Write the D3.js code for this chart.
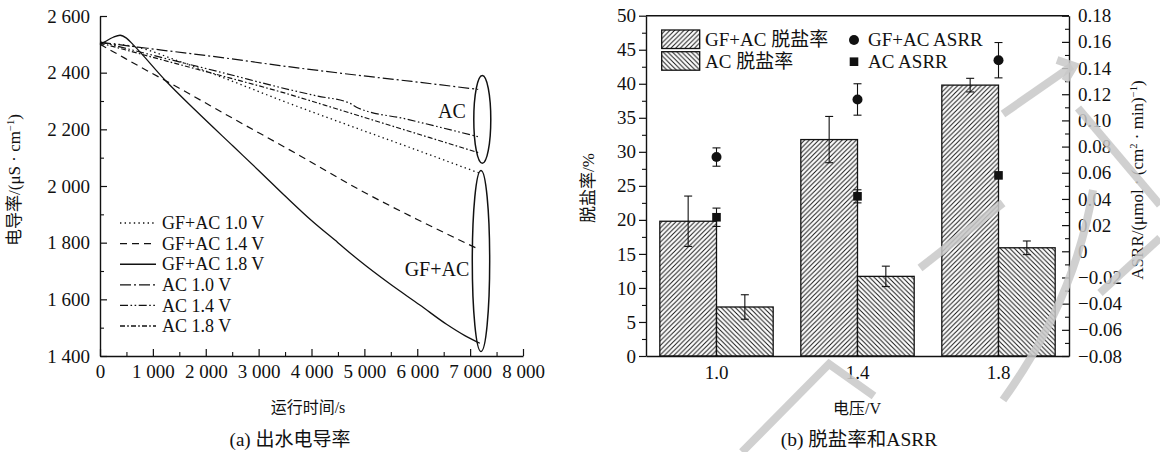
<!DOCTYPE html>
<html>
<head>
<meta charset="utf-8">
<script src="https://cdn.jsdelivr.net/npm/d3@7"></script>
<style>
  body { margin: 0; background: #fff; }
  svg { display: block; }
</style>
</head>
<body>
<svg id="chart" width="1160" height="452"></svg>
<script>
// ---------------- Panel (a): effluent conductivity vs. run time ----------------
const timeTicks = [0, 1000, 2000, 3000, 4000, 5000, 6000, 7000, 8000];
const timeMinor = [500, 1500, 2500, 3500, 4500, 5500, 6500, 7500];
const condTicks = [1400, 1600, 1800, 2000, 2200, 2400, 2600];
const condMinor = [1500, 1700, 1900, 2100, 2300, 2500];

const seriesNames = ["GF+AC 1.0 V", "GF+AC 1.4 V", "GF+AC 1.8 V", "AC 1.0 V", "AC 1.4 V", "AC 1.8 V"];

const gfac10Time = [0, 700, 1500, 2500, 3403, 4500, 5800, 7183];
const gfac10Cond = [2505, 2490, 2440, 2370, 2304, 2228, 2140, 2045];

const gfac14Time = [0, 250, 756, 1500, 2500, 3781, 4915, 6000, 7150];
const gfac14Cond = [2500, 2474, 2421, 2345, 2240, 2107, 1986, 1882, 1778];

const gfac18Time = [0, 100, 250, 380, 500, 630, 1260, 1800, 2520, 3000, 3527, 4000, 4500, 4915, 5500, 6049, 6554, 6900, 7183];
const gfac18Cond = [2500, 2510, 2525, 2532, 2522, 2498, 2368, 2268, 2140, 2055, 1960, 1878, 1800, 1735, 1652, 1580, 1512, 1472, 1445];

const ac10Time = [0, 1200, 2400, 3403, 4600, 5900, 7152];
const ac10Cond = [2507, 2479, 2451, 2425, 2397, 2369, 2341];

const ac14Time = [0, 1200, 2400, 3403, 4100, 4726, 4851, 5800, 7152];
const ac14Cond = [2509, 2452, 2396, 2348, 2318, 2292, 2278, 2236, 2174];

const ac18Time = [0, 1200, 2400, 3403, 4600, 5900, 7152];
const ac18Cond = [2505, 2444, 2384, 2333, 2265, 2190, 2118];

// ---------------- Panel (b): salt removal and ASRR ----------------
const voltages = ["1.0", "1.4", "1.8"];
const gfacRate = [19.8, 31.8, 39.8];
const gfacRateErr = [3.7, 3.4, 1.0];
const acRate = [7.2, 11.7, 15.9];
const acRateErr = [1.8, 1.5, 1.0];
const gfacAsrr = [0.072, 0.116, 0.146];
const gfacAsrrErr = [0.007, 0.012, 0.0135];
const acAsrr = [0.026, 0.042, 0.058];
const acAsrrErr = [0.007, 0.005, 0.0];
const rateTicks = [0, 5, 10, 15, 20, 25, 30, 35, 40, 45, 50];
const rateMinor = [2.5, 7.5, 12.5, 17.5, 22.5, 27.5, 32.5, 37.5, 42.5, 47.5];
const asrrTicks = [-0.08, -0.06, -0.04, -0.02, 0, 0.02, 0.04, 0.06, 0.08, 0.10, 0.12, 0.14, 0.16, 0.18];
const asrrMinor = [-0.07, -0.05, -0.03, -0.01, 0.01, 0.03, 0.05, 0.07, 0.09, 0.11, 0.13, 0.15, 0.17];

// ---------------- shared styling ----------------
const INK = "#111";
const SERIF = '"Liberation Serif", "Times New Roman", "Noto Sans CJK SC", serif';
const TICK_FONT = 19;

const svg = d3.select("#chart").attr("font-family", SERIF);

function styleAxis(g) {
  g.attr("font-family", SERIF).attr("font-size", TICK_FONT);
  g.selectAll("text").attr("fill", INK);
  g.selectAll("line").attr("stroke", INK).attr("stroke-width", 1.2);
  g.selectAll("path.domain").attr("stroke", INK).attr("stroke-width", 1.4);
}
function styleMinor(g) {
  g.select("path.domain").remove();
  g.selectAll("line").attr("stroke", INK).attr("stroke-width", 1.1);
}

// Rotated axis title with optional superscript runs: parts = [[text, isSup], ...]
function rotatedTitle(x, y, parts, size) {
  const t = svg.append("text")
    .attr("transform", `translate(${x},${y}) rotate(-90)`)
    .attr("text-anchor", "middle")
    .attr("font-size", size)
    .attr("fill", INK);
  let raised = false;
  parts.forEach(([txt, sup]) => {
    const ts = t.append("tspan").text(txt);
    if (sup && !raised) { ts.attr("dy", -size * 0.38).attr("font-size", size * 0.62); raised = true; }
    else if (sup) { ts.attr("font-size", size * 0.62); }
    else if (raised) { ts.attr("dy", size * 0.38); raised = false; }
  });
  return t;
}

const spaced = d => d === 0 ? "0" : d3.format(",")(d).replace(/,/g, " ");

// ================= Panel (a) =================
const xA = d3.scaleLinear().domain([0, 8000]).range([100, 523]);
const yA = d3.scaleLinear().domain([1400, 2600]).range([356, 16]);

const styles = {
  "GF+AC 1.0 V": { dash: "1.4,3.2", w: 1.3 },
  "GF+AC 1.4 V": { dash: "7,5", w: 1.2 },
  "GF+AC 1.8 V": { dash: null, w: 1.3 },
  "AC 1.0 V": { dash: "11,3,2,3", w: 1.2 },
  "AC 1.4 V": { dash: "8,2.5,1.6,2.5,1.6,2.5", w: 1.2 },
  "AC 1.8 V": { dash: "5,2.2,1.6,2.2", w: 1.2 }
};

const seriesData = [
  d3.zip(gfac10Time, gfac10Cond),
  d3.zip(gfac14Time, gfac14Cond),
  d3.zip(gfac18Time, gfac18Cond),
  d3.zip(ac10Time, ac10Cond),
  d3.zip(ac14Time, ac14Cond),
  d3.zip(ac18Time, ac18Cond)
];

const lineA = d3.line().curve(d3.curveMonotoneX).x(d => xA(d[0])).y(d => yA(d[1]));

const gLines = svg.append("g").attr("fill", "none");
seriesNames.forEach((name, i) => {
  gLines.append("path")
    .attr("d", lineA(seriesData[i]))
    .attr("stroke", INK)
    .attr("stroke-width", styles[name].w)
    .attr("stroke-dasharray", styles[name].dash);
});

// axes
svg.append("g").attr("transform", "translate(0,356)")
  .call(d3.axisBottom(xA).tickValues(timeMinor).tickSize(-4).tickSizeOuter(0).tickFormat(""))
  .call(styleMinor);
svg.append("g").attr("transform", "translate(0,356)")
  .call(d3.axisBottom(xA).tickValues(timeTicks).tickFormat(spaced).tickSize(-7).tickSizeOuter(0).tickPadding(9))
  .call(styleAxis);
svg.append("g").attr("transform", "translate(100,0)")
  .call(d3.axisLeft(yA).tickValues(condMinor).tickSize(-4).tickSizeOuter(0).tickFormat(""))
  .call(styleMinor);
svg.append("g").attr("transform", "translate(100,0)")
  .call(d3.axisLeft(yA).tickValues(condTicks).tickFormat(spaced).tickSize(-7).tickSizeOuter(0).tickPadding(10))
  .call(styleAxis);

// group ellipses at the end of the runs
const endT = 7230;
svg.append("ellipse")
  .attr("cx", xA(endT)).attr("cy", (yA(2390) + yA(2080)) / 2)
  .attr("rx", 8.5).attr("ry", (yA(2080) - yA(2390)) / 2)
  .attr("fill", "none").attr("stroke", INK).attr("stroke-width", 1.5);
svg.append("ellipse")
  .attr("cx", xA(endT) - 1.3).attr("cy", (yA(2055) + yA(1416)) / 2)
  .attr("rx", 8.7).attr("ry", (yA(1416) - yA(2055)) / 2)
  .attr("fill", "none").attr("stroke", INK).attr("stroke-width", 1.5);
svg.append("text").attr("x", 452).attr("y", 118).attr("text-anchor", "middle")
  .attr("font-size", 20).attr("fill", INK).text("AC");
svg.append("text").attr("x", 437).attr("y", 276).attr("text-anchor", "middle")
  .attr("font-size", 20).attr("fill", INK).text("GF+AC");

// legend
const legA = svg.append("g").attr("transform", "translate(120,223)");
seriesNames.forEach((name, i) => {
  const row = legA.append("g").attr("transform", `translate(0,${i * 20.6})`);
  row.append("line").attr("x1", 0).attr("x2", 36).attr("y1", 0).attr("y2", 0)
    .attr("stroke", INK).attr("stroke-width", styles[name].w + 0.1)
    .attr("stroke-dasharray", styles[name].dash);
  row.append("text").attr("x", 42).attr("y", 0).attr("dy", "0.34em")
    .attr("font-size", 18).attr("fill", INK).text(name);
});

// titles
rotatedTitle(20, 180, [["电导率/(μS · cm", false], ["−1", true], [")", false]], 17);
svg.append("text").attr("x", 308).attr("y", 413).attr("text-anchor", "middle")
  .attr("font-size", 16).attr("fill", INK).text("运行时间/s");
svg.append("text").attr("x", 290).attr("y", 446).attr("text-anchor", "middle")
  .attr("font-size", 19).attr("fill", INK).text("(a) 出水电导率");

// ================= Panel (b) =================
const defs = svg.append("defs");
function hatch(id, d) {
  const s = 4.7;
  const p = defs.append("pattern").attr("id", id)
    .attr("patternUnits", "userSpaceOnUse").attr("width", s).attr("height", s);
  p.append("rect").attr("width", s).attr("height", s).attr("fill", "#fff");
  p.append("path").attr("d", d).attr("stroke", INK).attr("stroke-width", 0.95);
}
hatch("hatchFwd", "M-1,1 L1,-1 M0,4.7 L4.7,0 M3.7,5.7 L5.7,3.7");
hatch("hatchBack", "M-1,3.7 L1,5.7 M0,0 L4.7,4.7 M3.7,-1 L5.7,1");

const plotL = 646, plotR = 1069, plotT = 15.7, plotB = 356;
const xB = d3.scaleBand().domain(voltages).range([plotL, plotR]).paddingInner(0.196).paddingOuter(0.098);
const xSub = d3.scaleBand().domain(["gfac", "ac"]).range([0, xB.bandwidth()]);
const yRate = d3.scaleLinear().domain([0, 50]).range([plotB, plotT]);
const yAsrr = d3.scaleLinear().domain([-0.08, 0.18]).range([plotB, plotT]);

const barSets = [
  { key: "gfac", vals: gfacRate, errs: gfacRateErr, fill: "url(#hatchFwd)" },
  { key: "ac", vals: acRate, errs: acRateErr, fill: "url(#hatchBack)" }
];

const gBars = svg.append("g");
barSets.forEach(set => {
  voltages.forEach((v, i) => {
    const x0 = xB(v) + xSub(set.key);
    gBars.append("rect")
      .attr("x", x0).attr("width", xSub.bandwidth())
      .attr("y", yRate(set.vals[i])).attr("height", yRate(0) - yRate(set.vals[i]))
      .attr("fill", set.fill).attr("stroke", INK).attr("stroke-width", 1.3);
  });
});

function errorBar(g, cx, yHi, yLo, cap) {
  g.append("line").attr("x1", cx).attr("x2", cx).attr("y1", yHi).attr("y2", yLo);
  g.append("line").attr("x1", cx - cap / 2).attr("x2", cx + cap / 2).attr("y1", yHi).attr("y2", yHi);
  g.append("line").attr("x1", cx - cap / 2).attr("x2", cx + cap / 2).attr("y1", yLo).attr("y2", yLo);
}

const gErr = svg.append("g").attr("stroke", INK).attr("stroke-width", 1.1);
barSets.forEach(set => {
  voltages.forEach((v, i) => {
    const cx = xB(v) + xSub(set.key) + xSub.bandwidth() / 2;
    errorBar(gErr, cx, yRate(set.vals[i] + set.errs[i]), yRate(set.vals[i] - set.errs[i]), 8);
  });
});

// ASRR markers at the centre of each voltage group
const gPts = svg.append("g");
voltages.forEach((v, i) => {
  const cx = xB(v) + xB.bandwidth() / 2;
  if (gfacAsrrErr[i] > 0) errorBar(gErr, cx, yAsrr(gfacAsrr[i] + gfacAsrrErr[i]), yAsrr(gfacAsrr[i] - gfacAsrrErr[i]), 8);
  if (acAsrrErr[i] > 0) errorBar(gErr, cx, yAsrr(acAsrr[i] + acAsrrErr[i]), yAsrr(acAsrr[i] - acAsrrErr[i]), 8);
  gPts.append("circle").attr("cx", cx).attr("cy", yAsrr(gfacAsrr[i])).attr("r", 5).attr("fill", INK);
  gPts.append("rect").attr("x", cx - 4.3).attr("y", yAsrr(acAsrr[i]) - 4.3)
    .attr("width", 8.6).attr("height", 8.6).attr("fill", INK);
});

// frame and axes
svg.append("line").attr("x1", plotL).attr("x2", plotR).attr("y1", plotT).attr("y2", plotT)
  .attr("stroke", INK).attr("stroke-width", 1.4);
svg.append("g").attr("transform", `translate(0,${plotB})`)
  .call(d3.axisBottom(xB).tickSize(0).tickPadding(10))
  .call(styleAxis);
svg.append("g").attr("transform", `translate(${plotL},0)`)
  .call(d3.axisLeft(yRate).tickValues(rateMinor).tickSize(4).tickSizeOuter(0).tickFormat(""))
  .call(styleMinor);
svg.append("g").attr("transform", `translate(${plotL},0)`)
  .call(d3.axisLeft(yRate).tickValues(rateTicks).tickSize(7).tickSizeOuter(0).tickPadding(3))
  .call(styleAxis);
const asrrFmt = d => d === 0 ? "0" : d3.format(".2f")(d).replace("-", "\u2212");
svg.append("g").attr("transform", `translate(${plotR},0)`)
  .call(d3.axisRight(yAsrr).tickValues(asrrMinor).tickSize(-4).tickSizeOuter(0).tickFormat(""))
  .call(styleMinor);
svg.append("g").attr("transform", `translate(${plotR},0)`)
  .call(d3.axisRight(yAsrr).tickValues(asrrTicks).tickFormat(asrrFmt).tickSize(-7).tickSizeOuter(0).tickPadding(9))
  .call(styleAxis);

// legend
const legB = svg.append("g");
[["GF+AC 脱盐率", "url(#hatchFwd)"], ["AC 脱盐率", "url(#hatchBack)"]].forEach(([label, fill], i) => {
  const y0 = 30 + i * 21.7;
  legB.append("rect").attr("x", 661.7).attr("y", y0).attr("width", 38).attr("height", 18.5)
    .attr("fill", fill).attr("stroke", INK).attr("stroke-width", 1.3);
  legB.append("text").attr("x", 705).attr("y", y0 + 9.5).attr("dy", "0.34em")
    .attr("font-size", 19).attr("fill", INK).text(label);
});
legB.append("circle").attr("cx", 854).attr("cy", 40).attr("r", 5).attr("fill", INK);
legB.append("rect").attr("x", 849.7).attr("y", 57.4).attr("width", 8.6).attr("height", 8.6).attr("fill", INK);
legB.append("text").attr("x", 868).attr("y", 40).attr("dy", "0.34em").attr("font-size", 19).attr("fill", INK).text("GF+AC ASRR");
legB.append("text").attr("x", 868).attr("y", 62).attr("dy", "0.34em").attr("font-size", 19).attr("fill", INK).text("AC ASRR");

// titles
rotatedTitle(594, 188, [["脱盐率/%", false]], 17);
rotatedTitle(1143, 180, [["ASRR/(μmol · (cm", false], ["2", true], [" · min)", false], ["−1", true], [")", false]], 17);
svg.append("text").attr("x", 857).attr("y", 414).attr("text-anchor", "middle")
  .attr("font-size", 16).attr("fill", INK).text("电压/V");
svg.append("text").attr("x", 859).attr("y", 446).attr("text-anchor", "middle")
  .attr("font-size", 19.5).attr("fill", INK).text("(b) 脱盐率和ASRR");

// faint publisher mark drawn over panel (b)
const mark = svg.append("g").attr("fill", "none").attr("stroke", "#c8c8c8")
  .attr("stroke-opacity", 0.85).attr("stroke-width", 8).attr("stroke-linejoin", "miter");
[
  "M742,452 L829,364 L874,396",
  "M920,268 L1003,203",
  "M1003,114 L1072,66",
  "M1057,60 L1074,66 L1065,81",
  "M1078,108 L1160,205",
  "M1093,190 Q1075,300 1003,400",
  "M1160,238 L1100,293"
].forEach(d => mark.append("path").attr("d", d));
</script>
</body>
</html>
